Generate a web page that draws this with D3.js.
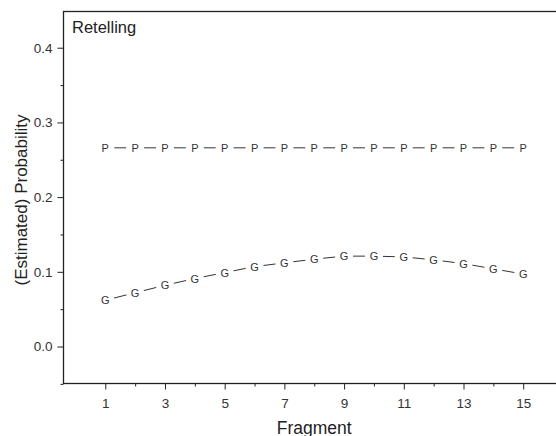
<!DOCTYPE html>
<html>
<head>
<meta charset="utf-8">
<script src="https://cdn.jsdelivr.net/npm/d3@7"></script>
<style>
  body { margin: 0; background: #fff; }
  svg { display: block; font-family: "Liberation Sans", Arial, sans-serif; }
</style>
</head>
<body>
<svg id="chart" width="556" height="436"></svg>
<script>
// Data
var fragments = [1, 2, 3, 4, 5, 6, 7, 8, 9, 10, 11, 12, 13, 14, 15];
var probP = [0.266, 0.266, 0.266, 0.266, 0.266, 0.266, 0.266, 0.266, 0.266, 0.266, 0.266, 0.266, 0.266, 0.266, 0.266];
var probG = [0.062, 0.072, 0.082, 0.091, 0.099, 0.107, 0.112, 0.117, 0.121, 0.121, 0.120, 0.116, 0.111, 0.104, 0.097];
var xTicks = [1, 3, 5, 7, 9, 11, 13, 15];
var xMinor = [2, 4, 6, 8, 10, 12, 14];
var yTicks = [0.0, 0.1, 0.2, 0.3, 0.4];
var yMinor = [-0.05, 0.05, 0.15, 0.25, 0.35];

var svg = d3.select('#chart');

// Plot box (right edge runs off the window)
var box = { left: 63.5, top: 11.5, right: 565, bottom: 383.5 };

var x = d3.scaleLinear().domain([-0.4, 16.4]).range([box.left, box.right]);
var y = d3.scaleLinear().domain([-0.0495, 0.4485]).range([box.bottom, box.top]);

var ink = '#222';

// Box
svg.append('rect')
  .attr('x', box.left).attr('y', box.top)
  .attr('width', box.right - box.left).attr('height', box.bottom - box.top)
  .attr('fill', 'none').attr('stroke', ink).attr('stroke-width', 1.3);

// Y axis
var yAxis = svg.append('g').attr('transform', 'translate(' + box.left + ',0)')
  .call(d3.axisLeft(y).tickValues(yTicks).tickFormat(d3.format('.1f')).tickSize(6).tickPadding(5));
yAxis.select('.domain').remove();
yAxis.selectAll('line').attr('stroke', ink);
yAxis.selectAll('text').attr('font-size', 13.5).attr('fill', '#333').attr('font-family', null);

var yAxisMinor = svg.append('g').attr('transform', 'translate(' + box.left + ',0)')
  .call(d3.axisLeft(y).tickValues(yMinor).tickFormat('').tickSize(3));
yAxisMinor.select('.domain').remove();
yAxisMinor.selectAll('line').attr('stroke', ink);

// X axis
var xAxis = svg.append('g').attr('transform', 'translate(0,' + box.bottom + ')')
  .call(d3.axisBottom(x).tickValues(xTicks).tickSize(6).tickPadding(9));
xAxis.select('.domain').remove();
xAxis.selectAll('line').attr('stroke', ink);
xAxis.selectAll('text').attr('font-size', 13.5).attr('fill', '#333').attr('font-family', null);

var xAxisMinor = svg.append('g').attr('transform', 'translate(0,' + box.bottom + ')')
  .call(d3.axisBottom(x).tickValues(xMinor).tickFormat('').tickSize(3));
xAxisMinor.select('.domain').remove();
xAxisMinor.selectAll('line').attr('stroke', ink);

// Titles
svg.append('text')
  .attr('x', 72).attr('y', 33)
  .attr('font-size', 16.5).attr('fill', '#222')
  .text('Retelling');

svg.append('text')
  .attr('x', (box.left + box.right) / 2).attr('y', 433.5)
  .attr('text-anchor', 'middle')
  .attr('font-size', 17.5).attr('fill', '#222')
  .text('Fragment');

svg.append('text')
  .attr('transform', 'translate(26.5,200) rotate(-90)')
  .attr('text-anchor', 'middle')
  .attr('font-size', 17).attr('fill', '#222')
  .text('(Estimated) Probability');

// Series drawn as letters joined by broken lines (like R type="b")
var gap = 9;

function drawSeries(values, letter) {
  var pts = fragments.map(function(f, i) {
    return [x(f), y(values[i])];
  });

  var segs = d3.pairs(pts).map(function(p) {
    var dx = p[1][0] - p[0][0], dy = p[1][1] - p[0][1];
    var len = Math.sqrt(dx * dx + dy * dy);
    var ux = dx / len, uy = dy / len;
    return [p[0][0] + ux * gap, p[0][1] + uy * gap, p[1][0] - ux * gap, p[1][1] - uy * gap];
  });

  svg.append('g').selectAll('line')
    .data(segs)
    .enter().append('line')
    .attr('x1', function(d) { return d[0]; })
    .attr('y1', function(d) { return d[1]; })
    .attr('x2', function(d) { return d[2]; })
    .attr('y2', function(d) { return d[3]; })
    .attr('stroke', '#333')
    .attr('stroke-width', 1);

  svg.append('g').selectAll('text')
    .data(pts)
    .enter().append('text')
    .attr('x', function(d) { return d[0]; })
    .attr('y', function(d) { return d[1]; })
    .attr('dy', '0.36em')
    .attr('text-anchor', 'middle')
    .attr('font-size', 11)
    .attr('fill', '#333')
    .text(letter);
}

drawSeries(probP, 'P');
drawSeries(probG, 'G');
</script>
</body>
</html>
